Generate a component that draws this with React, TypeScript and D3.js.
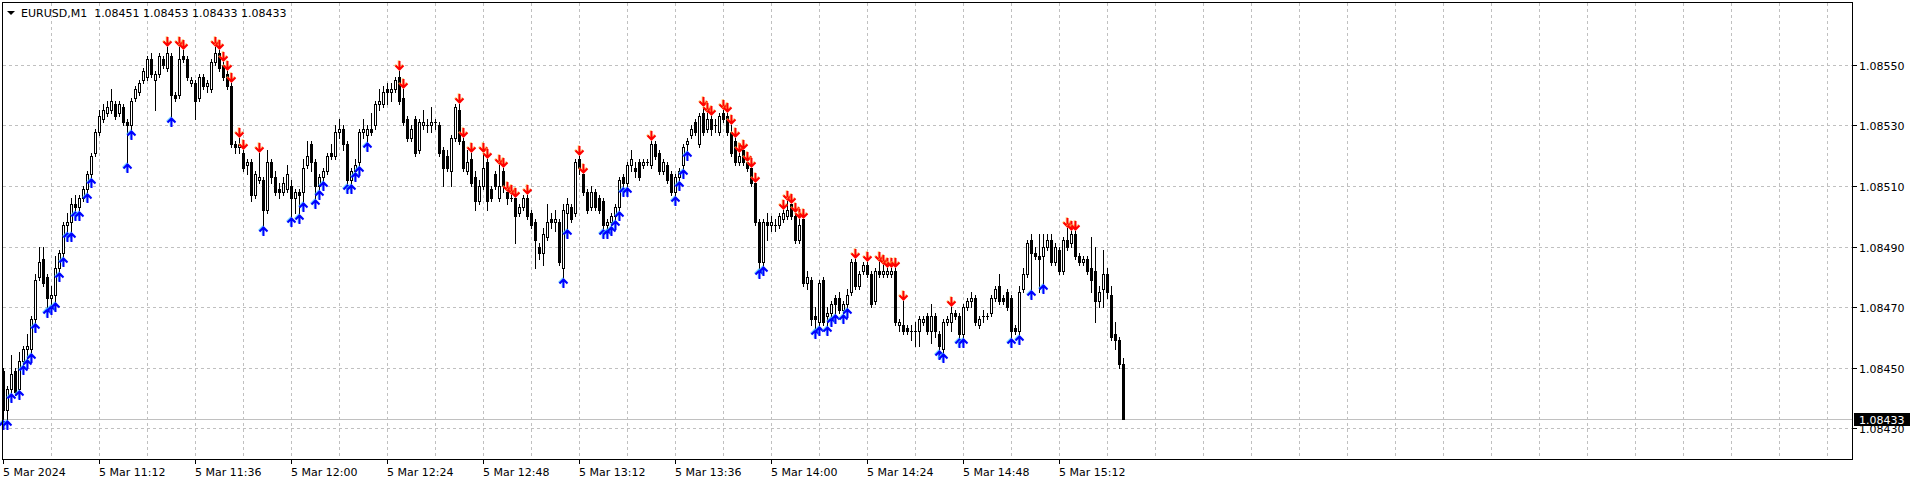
import React from "react";
import * as d3 from "d3";

// ---------- data ----------
const SYMBOL = "EURUSD,M1";
const START_TIME = "2024-03-05T10:48:00";

const OPEN = [1.08449,1.08436,1.08443,1.08449,1.08443,1.08452,1.08456,1.08456,1.08466,1.0848,1.08486,1.0848,1.08473,1.08474,1.08483,1.08488,1.08497,1.08498,1.08504,1.08503,1.08506,1.08509,1.08514,1.08521,1.08528,1.08532,1.08534,1.08535,1.08537,1.08534,1.08536,1.08531,1.0853,1.08539,1.08541,1.08545,1.08546,1.08552,1.08545,1.08547,1.08552,1.08549,1.08553,1.0854,1.0854,1.08553,1.08552,1.08544,1.08544,1.08539,1.08546,1.08543,1.08542,1.08551,1.08554,1.0855,1.08547,1.08543,1.08524,1.08523,1.08521,1.08517,1.08518,1.08507,1.08512,1.08512,1.08502,1.08518,1.08513,1.08509,1.08508,1.08509,1.0851,1.08506,1.08508,1.08508,1.08517,1.08524,1.08518,1.0851,1.08513,1.08515,1.08521,1.0852,1.08528,1.08529,1.08524,1.08512,1.08515,1.08518,1.08528,1.08527,1.08529,1.0853,1.08537,1.08537,1.08542,1.08541,1.08542,1.08546,1.08539,1.08532,1.08526,1.08532,1.08522,1.0853,1.0853,1.0853,1.08531,1.0853,1.08522,1.0852,1.08515,1.08526,1.08535,1.08525,1.08515,1.08519,1.08513,1.08505,1.0851,1.08518,1.08509,1.08514,1.08506,1.08515,1.08508,1.08506,1.08506,1.08501,1.08503,1.08506,1.08501,1.08498,1.0849,1.08488,1.08493,1.08499,1.08498,1.08498,1.08483,1.08501,1.08503,1.08501,1.08519,1.08514,1.08508,1.08503,1.08508,1.08506,1.08505,1.08497,1.08498,1.085,1.08503,1.08513,1.08511,1.08517,1.08516,1.08518,1.08517,1.08518,1.08517,1.08524,1.08521,1.08515,1.08517,1.08514,1.08508,1.08513,1.08517,1.08524,1.08527,1.08531,1.08524,1.08534,1.08529,1.08532,1.0853,1.08528,1.08534,1.08533,1.08528,1.08525,1.08518,1.08522,1.08518,1.08516,1.08511,1.08498,1.08485,1.08498,1.08497,1.08497,1.08497,1.08499,1.085,1.08504,1.085,1.08492,1.08499,1.08478,1.08479,1.08467,1.08465,1.08479,1.08467,1.08468,1.08473,1.08473,1.08469,1.08471,1.08475,1.08485,1.08477,1.08482,1.08484,1.08481,1.08472,1.08482,1.08481,1.08481,1.08481,1.08482,1.08464,1.08464,1.08463,1.08462,1.08462,1.08462,1.08465,1.08467,1.08462,1.08467,1.08461,1.08456,1.08465,1.08465,1.08468,1.08467,1.08461,1.0847,1.08472,1.08473,1.08464,1.08467,1.08467,1.08468,1.08473,1.08477,1.08473,1.08475,1.08473,1.08463,1.08462,1.08476,1.08481,1.08492,1.08488,1.08487,1.08487,1.0849,1.08492,1.08485,1.08489,1.08482,1.08492,1.08491,1.08494,1.08487,1.08485,1.08486,1.08483,1.08482,1.08472,1.08476,1.08481,1.08474,1.08461,1.08459,1.08451];
const HIGH = [1.0845,1.08444,1.08454,1.0845,1.08455,1.08457,1.08461,1.08467,1.08481,1.0849,1.0849,1.08481,1.08477,1.08487,1.08489,1.08498,1.08501,1.08506,1.08507,1.08507,1.0851,1.08515,1.08521,1.08529,1.08535,1.08537,1.08538,1.08542,1.08538,1.08538,1.08537,1.08532,1.08539,1.08543,1.08545,1.08549,1.08553,1.08554,1.08548,1.08554,1.08553,1.08556,1.08554,1.08541,1.08556,1.08555,1.08553,1.08546,1.08545,1.08547,1.08547,1.08545,1.08552,1.08556,1.08555,1.08551,1.08548,1.08544,1.08525,1.08526,1.08522,1.08519,1.08519,1.08515,1.08521,1.08513,1.08522,1.08519,1.08515,1.08511,1.08513,1.08517,1.08512,1.08509,1.08509,1.08519,1.08525,1.08525,1.08519,1.08514,1.08516,1.08521,1.08524,1.0853,1.08532,1.0853,1.08525,1.08516,1.08519,1.08529,1.08532,1.0853,1.08534,1.08538,1.08542,1.08543,1.08544,1.08544,1.08546,1.08548,1.08542,1.08533,1.0853,1.08533,1.08532,1.08535,1.08532,1.08536,1.08532,1.08531,1.08523,1.08522,1.08527,1.08537,1.08537,1.08526,1.08522,1.08521,1.08515,1.08512,1.08521,1.08519,1.0851,1.08515,1.08517,1.08516,1.08508,1.08507,1.08506,1.08504,1.08507,1.08507,1.08502,1.08499,1.08491,1.08496,1.08504,1.08501,1.08502,1.08499,1.08504,1.08506,1.08504,1.08519,1.0852,1.08514,1.08509,1.0851,1.08509,1.08507,1.08506,1.08499,1.08501,1.08504,1.08513,1.08514,1.08518,1.08522,1.08518,1.08519,1.08519,1.08519,1.08525,1.08525,1.08522,1.08519,1.08518,1.08515,1.08514,1.08516,1.08524,1.08526,1.0853,1.08532,1.08534,1.08536,1.08534,1.08533,1.08532,1.08534,1.08535,1.08534,1.0853,1.08526,1.08521,1.08522,1.08518,1.08516,1.08511,1.08499,1.08499,1.08501,1.085,1.08499,1.08501,1.08502,1.08505,1.08504,1.08501,1.08499,1.08499,1.08482,1.0848,1.0847,1.08479,1.0848,1.0847,1.08472,1.08474,1.08475,1.08472,1.08476,1.08486,1.08486,1.08482,1.08485,1.08485,1.08482,1.08483,1.08485,1.08484,1.08483,1.08483,1.08483,1.08466,1.08472,1.08464,1.08464,1.08465,1.08467,1.08467,1.08468,1.08471,1.08468,1.08462,1.08466,1.08467,1.0847,1.08469,1.08468,1.08471,1.08473,1.08475,1.08474,1.08467,1.08469,1.08468,1.08474,1.08477,1.08481,1.08474,1.08476,1.08474,1.08464,1.08477,1.08483,1.08492,1.08494,1.0849,1.08494,1.08494,1.08494,1.08494,1.08491,1.0849,1.08493,1.08496,1.08495,1.08495,1.08488,1.08487,1.08487,1.08493,1.0849,1.08477,1.08489,1.08483,1.08477,1.08465,1.0846,1.08453];
const LOW = [1.08433,1.08433,1.08442,1.08441,1.08443,1.08451,1.08453,1.08455,1.08465,1.08479,1.08477,1.0847,1.08471,1.08472,1.08482,1.08487,1.08495,1.08495,1.08502,1.08502,1.08505,1.08508,1.08513,1.0852,1.08527,1.08531,1.08533,1.08534,1.08532,1.08533,1.0853,1.08518,1.08529,1.08538,1.0854,1.08544,1.08545,1.08546,1.08535,1.08546,1.08549,1.08548,1.08533,1.08538,1.08539,1.08551,1.08545,1.08543,1.08532,1.08538,1.08542,1.08541,1.08541,1.0855,1.08548,1.08545,1.08542,1.08523,1.08521,1.08521,1.08515,1.08514,1.08505,1.08506,1.08511,1.08497,1.08501,1.08511,1.08507,1.08506,1.08507,1.08508,1.085,1.08501,1.08501,1.08505,1.08516,1.08515,1.08506,1.08509,1.08512,1.08514,1.08519,1.08519,1.08526,1.08522,1.08511,1.08511,1.08515,1.08517,1.08526,1.08525,1.08527,1.08529,1.08535,1.08536,1.08537,1.08538,1.08541,1.08537,1.0853,1.08525,1.08525,1.0852,1.08521,1.08529,1.08528,1.08528,1.08529,1.0852,1.0851,1.08515,1.0851,1.08525,1.08524,1.08515,1.08514,1.0851,1.08502,1.08504,1.08509,1.08502,1.08505,1.08509,1.08505,1.08508,1.08504,1.08505,1.08491,1.085,1.08502,1.08499,1.08496,1.08483,1.08486,1.08484,1.08492,1.08496,1.08495,1.08484,1.0848,1.08496,1.08498,1.085,1.08514,1.08507,1.08501,1.08502,1.08502,1.08501,1.08496,1.08496,1.08497,1.08499,1.08502,1.0851,1.0851,1.08515,1.08513,1.08512,1.08516,1.08517,1.08516,1.08519,1.08514,1.08514,1.08511,1.08507,1.08507,1.08512,1.08516,1.08522,1.08526,1.08527,1.08523,1.08527,1.08528,1.08527,1.08528,1.08527,1.08531,1.08527,1.0852,1.08517,1.08517,1.08517,1.08515,1.0851,1.08497,1.08483,1.08484,1.08492,1.08495,1.08495,1.08496,1.08498,1.08499,1.08499,1.08491,1.08491,1.08477,1.08476,1.08464,1.08463,1.08464,1.08464,1.08464,1.08467,1.08468,1.08468,1.08468,1.0847,1.08474,1.08476,1.08476,1.08481,1.0848,1.0847,1.08471,1.0848,1.0848,1.0848,1.0848,1.08464,1.08462,1.08461,1.08461,1.08459,1.08457,1.08457,1.08464,1.08461,1.08458,1.0846,1.08456,1.08455,1.08464,1.08462,1.08466,1.0846,1.0846,1.08469,1.0847,1.08464,1.08463,1.08465,1.08466,1.08467,1.08472,1.08471,1.08471,1.08469,1.0846,1.08461,1.08461,1.08475,1.0848,1.08476,1.08486,1.08475,1.08478,1.08489,1.08484,1.08484,1.08481,1.08481,1.08489,1.0849,1.08486,1.08484,1.08484,1.08481,1.08475,1.08465,1.0847,1.0847,1.08473,1.08459,1.08456,1.0845,1.08433];
const CLOSE = [1.08436,1.08443,1.08448,1.08442,1.08452,1.08456,1.08457,1.08466,1.08479,1.08485,1.08478,1.08473,1.08474,1.08483,1.08488,1.08497,1.08498,1.08504,1.08503,1.08506,1.08509,1.08514,1.0852,1.08528,1.08533,1.08535,1.08536,1.08538,1.08533,1.08537,1.08531,1.0853,1.08538,1.08542,1.08544,1.08548,1.08552,1.08547,1.08547,1.08553,1.0855,1.08554,1.0854,1.08539,1.08552,1.08552,1.08546,1.08545,1.08538,1.08546,1.08543,1.08544,1.08551,1.08554,1.08549,1.08546,1.08543,1.08524,1.08523,1.08524,1.08516,1.08518,1.08507,1.08514,1.08513,1.08502,1.08518,1.08513,1.08508,1.08508,1.08511,1.08514,1.08506,1.08508,1.08507,1.08516,1.0852,1.08518,1.0851,1.08513,1.08515,1.0852,1.0852,1.08528,1.08529,1.08524,1.08512,1.08515,1.08517,1.08528,1.08529,1.08529,1.08528,1.08537,1.08538,1.08541,1.08541,1.08542,1.08545,1.08538,1.08531,1.08526,1.08529,1.08521,1.08531,1.08531,1.0853,1.08531,1.08531,1.08521,1.08516,1.08516,1.08526,1.08536,1.08525,1.08516,1.08518,1.08511,1.08505,1.0851,1.08516,1.08505,1.08506,1.0851,1.0851,1.0851,1.08506,1.08506,1.085,1.08503,1.08506,1.085,1.08497,1.08492,1.08488,1.08494,1.08498,1.08498,1.08499,1.08485,1.08502,1.08504,1.08499,1.08518,1.08516,1.08508,1.08502,1.08508,1.08503,1.08502,1.08497,1.08498,1.085,1.08503,1.08512,1.08511,1.08517,1.08519,1.08515,1.08513,1.08518,1.08518,1.08524,1.0852,1.08515,1.08518,1.08512,1.08508,1.08513,1.08515,1.08523,1.08525,1.08529,1.08528,1.08533,1.08528,1.08532,1.08529,1.0853,1.08533,1.08532,1.08528,1.08521,1.08518,1.0852,1.08518,1.08516,1.08511,1.08498,1.08485,1.08498,1.08497,1.08498,1.08497,1.085,1.08501,1.08502,1.085,1.08492,1.08497,1.08478,1.0848,1.08466,1.08466,1.08478,1.08465,1.08468,1.08471,1.08471,1.08469,1.08471,1.08474,1.08485,1.08477,1.08481,1.08484,1.08481,1.08471,1.08482,1.08481,1.08482,1.08482,1.08482,1.08465,1.08465,1.08462,1.08462,1.08462,1.08462,1.08466,1.08466,1.08462,1.08467,1.08462,1.08457,1.08465,1.08466,1.08468,1.08467,1.08461,1.0847,1.08472,1.08473,1.08465,1.08466,1.08467,1.08467,1.08473,1.08476,1.08472,1.08472,1.0847,1.08462,1.08462,1.08475,1.08481,1.08491,1.08488,1.08487,1.08486,1.0849,1.08492,1.08485,1.0849,1.08482,1.08492,1.0849,1.08494,1.08487,1.08485,1.08486,1.08482,1.08479,1.08472,1.08475,1.08481,1.08475,1.0846,1.08459,1.08451,1.08433];

const DOWN_SIGNALS = [41,44,45,53,54,55,56,57,59,60,64,99,100,114,115,117,120,121,124,125,126,127,128,131,144,145,162,175,176,177,180,181,182,183,184,185,186,187,188,195,196,197,198,199,200,213,216,219,220,221,222,223,225,237,266,267,268];
const UP_SIGNALS = [0,1,2,4,5,6,7,8,11,12,13,14,15,16,17,18,19,21,22,31,32,42,65,72,74,75,78,79,80,86,87,88,89,91,140,141,150,151,152,153,154,155,156,168,169,170,171,189,190,203,204,206,207,208,210,211,234,235,239,240,252,254,257,260];

const PRICE_TICKS = [1.0843, 1.0845, 1.0847, 1.0849, 1.0851, 1.0853, 1.0855];
const LABEL_EVERY = 24; // bars between time labels
const GRID_EVERY = 12;  // bars between vertical grid lines

// ---------- layout ----------
const W = 1916, H = 483;
const FRAME = { left: 2.5, top: 2.5, right: 1852.5, bottom: 459.5 };
const FONT = "'DejaVu Sans', Tahoma, sans-serif";

const monthFmt = d3.timeFormat("%-d %b %Y");
const timeFmt = d3.timeFormat("%-d %b %H:%M");

function downArrow(cx: number, tip: number) {
  // tip = lowest point of the arrow (just above the bar high)
  return `M${cx},${tip - 9}V${tip - 1}M${cx - 4},${tip - 4.5}L${cx},${tip - 0.5}L${cx + 4},${tip - 4.5}`;
}
function upArrow(cx: number, tip: number) {
  return `M${cx},${tip + 9}V${tip + 1}M${cx - 4},${tip + 4.5}L${cx},${tip + 0.5}L${cx + 4},${tip + 4.5}`;
}

export default function App() {
  const n = CLOSE.length;
  const x = d3.scaleLinear().domain([0, n - 1]).range([3, 1123]);
  const y = d3.scaleLinear().domain([1.0843, 1.0855]).range([428, 65]);
  const start = new Date(START_TIME);
  const times = d3.range(n).map((i) => d3.timeMinute.offset(start, i));

  const lastIdxVisible = Math.floor(x.invert(FRAME.right));
  const gridIdx = d3.range(GRID_EVERY, lastIdxVisible + 1, GRID_EVERY);
  const labelIdx = d3.range(0, n, LABEL_EVERY);
  const py = (v: number) => Math.round(y(v));
  const px = (i: number) => Math.round(x(i));
  const last = CLOSE[n - 1];

  return (
    <svg width={W} height={H} style={{ position: "fixed", left: 0, top: 0, background: "#fff" }} fontFamily={FONT}>
      <rect x={0} y={0} width={W} height={H} fill="#fff" />
      {/* grid */}
      <g stroke="#c0c0c0" strokeWidth={1} strokeDasharray="3,3" shapeRendering="crispEdges">
        {PRICE_TICKS.map((t) => (
          <line key={"h" + t} x1={3} x2={FRAME.right} y1={py(t) + 0.5} y2={py(t) + 0.5} />
        ))}
        {gridIdx.map((i) => (
          <line key={"v" + i} x1={px(i) + 0.5} x2={px(i) + 0.5} y1={3} y2={FRAME.bottom} />
        ))}
      </g>
      {/* current price line */}
      <line x1={3} x2={FRAME.right} y1={py(last) + 0.5} y2={py(last) + 0.5} stroke="#c0c0c0" strokeWidth={1} shapeRendering="crispEdges" />
      {/* candles */}
      <g shapeRendering="crispEdges">
        {CLOSE.map((c, i) => {
          const o = OPEN[i], h = HIGH[i], l = LOW[i];
          const cx = px(i);
          const yh = py(h), yl = py(l);
          const top = py(Math.max(o, c)), bot = py(Math.min(o, c));
          let body;
          if (bot - top < 1) {
            body = <rect x={cx - 1} y={top} width={3} height={1} fill="#000" />;
          } else if (c < o) {
            body = <rect x={cx - 1} y={top} width={3} height={bot - top + 1} fill="#000" />;
          } else {
            body = <rect x={cx - 0.5} y={top + 0.5} width={2} height={bot - top} fill="#fff" stroke="#000" strokeWidth={1} />;
          }
          return (
            <g key={i}>
              <rect x={cx} y={yh} width={1} height={yl - yh + 1} fill="#000" />
              {body}
            </g>
          );
        })}
      </g>
      {/* signal arrows */}
      <g fill="none" strokeWidth={2}>
        {DOWN_SIGNALS.map((i) => {
          const cx = px(i) + 0.5;
          const tip = py(HIGH[i]) - 1;
          const d = downArrow(cx, tip);
          return (
            <g key={"d" + i}>
              <path d={d} transform="translate(-0.7,-0.7)" stroke="#ffb347" strokeWidth={2.2} opacity={0.75} />
              <path d={d} stroke="#ff0000" />
            </g>
          );
        })}
        {UP_SIGNALS.map((i) => {
          const cx = px(i) + 0.5;
          const tip = py(LOW[i]) + 2;
          const d = upArrow(cx, tip);
          return (
            <g key={"u" + i}>
              <path d={d} transform="translate(-0.7,-0.7)" stroke="#40c0ff" strokeWidth={2.2} opacity={0.75} />
              <path d={d} stroke="#0000ff" />
            </g>
          );
        })}
      </g>
      {/* frame */}
      <rect x={FRAME.left} y={FRAME.top} width={FRAME.right - FRAME.left} height={FRAME.bottom - FRAME.top} fill="none" stroke="#000" strokeWidth={1} shapeRendering="crispEdges" />
      {/* right price axis */}
      <g fontSize={11} fill="#000">
        {PRICE_TICKS.map((t) => (
          <g key={"p" + t}>
            <line x1={FRAME.right} x2={FRAME.right + 4} y1={py(t) + 0.5} y2={py(t) + 0.5} stroke="#000" shapeRendering="crispEdges" />
            <text x={1859} y={py(t) + 5}>{t.toFixed(5)}</text>
          </g>
        ))}
        <rect x={1854} y={py(last) - 6} width={56} height={13} fill="#000" />
        <text x={1859} y={py(last) + 5} fill="#fff">{last.toFixed(5)}</text>
      </g>
      {/* time axis */}
      <g fontSize={11} fill="#000">
        {labelIdx.map((i) => (
          <g key={"t" + i}>
            <line x1={px(i) + 0.5} x2={px(i) + 0.5} y1={FRAME.bottom} y2={FRAME.bottom + 4} stroke="#000" shapeRendering="crispEdges" />
            <text x={px(i)} y={476}>{i === 0 ? monthFmt(times[i]) : timeFmt(times[i])}</text>
          </g>
        ))}
      </g>
      {/* header */}
      <path d="M7,11L15,11L11,15Z" fill="#000" />
      <text x={21} y={17} fontSize={11} fill="#000" style={{ whiteSpace: "pre" }} xmlSpace="preserve">
        {`${SYMBOL}  ${OPEN[n - 1].toFixed(5)} ${HIGH[n - 1].toFixed(5)} ${LOW[n - 1].toFixed(5)} ${CLOSE[n - 1].toFixed(5)}`}
      </text>
    </svg>
  );
}
